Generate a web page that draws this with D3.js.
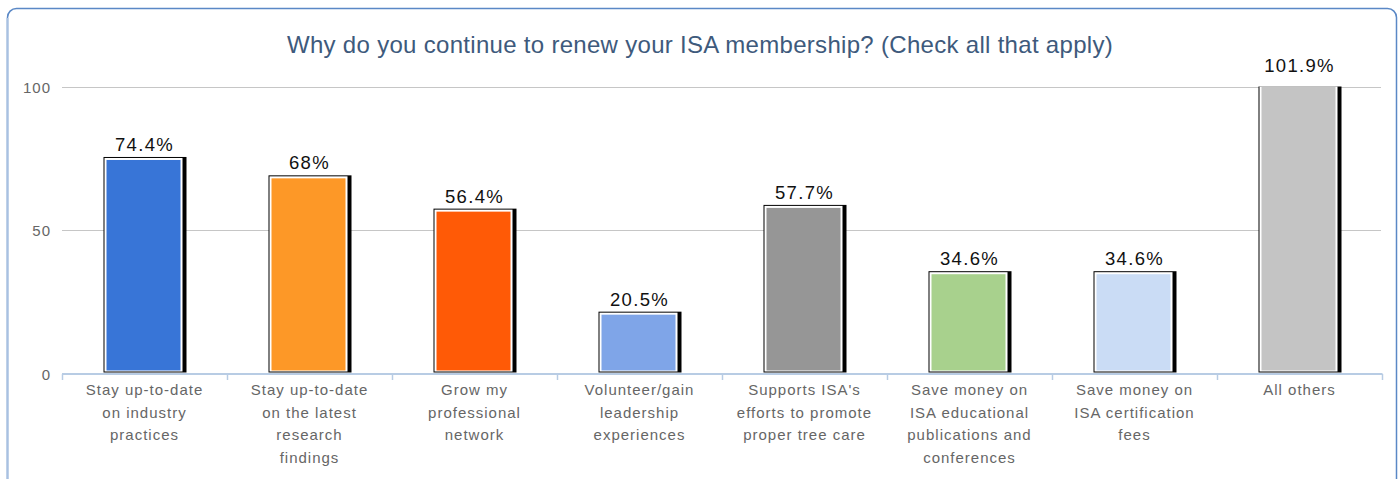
<!DOCTYPE html>
<html lang="en">
<head>
    <meta charset="UTF-8">
    <title>ISA membership renewal</title>
    <script src="https://d3js.org/d3.v7.min.js"></script>
    <style>
        body{
            margin: 0;
            background-color: white;
        }
        svg text{
            font-family: "Liberation Sans", Arial, sans-serif;
        }
    </style>
</head>
<body>
<svg id="canvas" width="1398" height="479"></svg>
<script>
    // chart values
    const categories = [
        ["Stay up-to-date", "on industry", "practices"],
        ["Stay up-to-date", "on the latest", "research", "findings"],
        ["Grow my", "professional", "network"],
        ["Volunteer/gain", "leadership", "experiences"],
        ["Supports ISA's", "efforts to promote", "proper tree care"],
        ["Save money on", "ISA educational", "publications and", "conferences"],
        ["Save money on", "ISA certification", "fees"],
        ["All others"]
    ];
    const values = [74.4, 68, 56.4, 20.5, 57.7, 34.6, 34.6, 101.9];
    const valueLabels = ["74.4%", "68%", "56.4%", "20.5%", "57.7%", "34.6%", "34.6%", "101.9%"];
    const barColors = ["#3875d7", "#fd9827", "#ff5a06", "#7fa5e8", "#969696", "#a8d18d", "#cadcf5", "#c4c4c4"];
    const yTicks = [0, 50, 100];
    const title = "Why do you continue to renew your ISA membership? (Check all that apply)";

    let svg = d3.select('svg');

    // outer frame
    svg.append('rect')
        .attr('x', 7.5).attr('y', 8.5)
        .attr('width', 1389).attr('height', 490)
        .attr('rx', 9)
        .attr('fill', 'white')
        .attr('stroke', '#5a88c6')
        .attr('stroke-width', 1.5);
    svg.append('line')
        .attr('x1', 7.5).attr('x2', 7.5).attr('y1', 18).attr('y2', 479)
        .attr('stroke', '#a9c1e1').attr('stroke-width', 2);

    svg.append('text')
        .attr('x', 700).attr('y', 53)
        .attr('text-anchor', 'middle')
        .attr('fill', '#3e5a7c')
        .style('font-size', '24px')
        .style('letter-spacing', '0.3px')
        .text(title);

    let x = d3.scaleBand()
        .domain(d3.range(categories.length))
        .range([62, 1382]);
    let y = d3.scaleLinear()
        .domain([0, 100])
        .range([373.5, 86.5]);

    // gridlines + y labels
    let grid = svg.append('g');
    grid.selectAll('line')
        .data(yTicks.filter(d => d > 0))
        .enter().append('line')
        .attr('x1', 62).attr('x2', 1381)
        .attr('y1', d => Math.round(y(d)) + 0.5)
        .attr('y2', d => Math.round(y(d)) + 0.5)
        .attr('stroke', '#c6c6c6');
    grid.selectAll('text')
        .data(yTicks)
        .enter().append('text')
        .attr('x', 51)
        .attr('y', d => y(d) + 6)
        .attr('text-anchor', 'end')
        .attr('fill', '#666')
        .style('font-size', '15px')
        .style('letter-spacing', '1px')
        .text(d => d);

    svg.append('defs').append('clipPath').attr('id', 'plotclip')
        .append('rect').attr('x', 0).attr('y', y(100)).attr('width', 1398).attr('height', 400);

    // bars: black frame with shadow, white inner line, colour fill
    let bw = 74;
    let bars = svg.append('g').attr('clip-path', 'url(#plotclip)')
        .selectAll('g')
        .data(values)
        .enter().append('g');
    let bx = (d, i) => x(i) + x.bandwidth() / 2 - bw / 2 - 1;
    bars.append('rect')
        .attr('x', (d, i) => bx(d, i) - 3)
        .attr('y', d => y(d) - 3)
        .attr('width', bw + 9)
        .attr('height', d => y(0) - y(d) + 2)
        .attr('fill', 'black');
    bars.append('rect')
        .attr('x', (d, i) => bx(d, i) - 2)
        .attr('y', d => y(d) - 2)
        .attr('width', bw + 4)
        .attr('height', d => y(0) - y(d) + 0)
        .attr('fill', 'white');
    bars.append('rect')
        .attr('x', (d, i) => bx(d, i))
        .attr('y', d => y(d))
        .attr('width', bw)
        .attr('height', d => y(0) - y(d) - 3)
        .attr('fill', (d, i) => barColors[i]);

    // value labels
    svg.append('g').selectAll('text')
        .data(values)
        .enter().append('text')
        .attr('x', (d, i) => x(i) + x.bandwidth() / 2)
        .attr('y', d => y(d) - 9)
        .attr('text-anchor', 'middle')
        .attr('fill', '#111')
        .style('font-size', '18.5px')
        .style('letter-spacing', '1.3px')
        .text((d, i) => valueLabels[i]);

    // x axis line and ticks
    let axis = svg.append('g');
    axis.append('line')
        .attr('x1', 62).attr('x2', 1382.5)
        .attr('y1', 374).attr('y2', 374)
        .attr('stroke', '#b8cce4').attr('stroke-width', 2);
    axis.selectAll('line.tick')
        .data(d3.range(categories.length + 1))
        .enter().append('line')
        .attr('class', 'tick')
        .attr('x1', d => Math.round(62 + d * x.step()) + 0.5)
        .attr('x2', d => Math.round(62 + d * x.step()) + 0.5)
        .attr('y1', 374).attr('y2', 380)
        .attr('stroke', '#b8cce4').attr('stroke-width', 1.5);

    // category labels
    let cats = svg.append('g').selectAll('text')
        .data(categories)
        .enter().append('text')
        .attr('text-anchor', 'middle')
        .attr('fill', '#666')
        .style('font-size', '15px')
        .style('letter-spacing', '1px');
    cats.each(function (lines, i) {
        d3.select(this).selectAll('tspan')
            .data(lines)
            .enter().append('tspan')
            .attr('x', x(i) + x.bandwidth() / 2)
            .attr('y', (d, j) => 395 + j * 22.6)
            .text(d => d);
    });
</script>
</body>
</html>
